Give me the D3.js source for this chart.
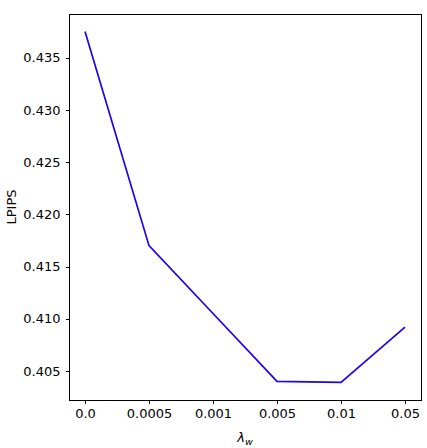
<!doctype html>
<meta charset="utf-8">
<title>LPIPS vs lambda_w</title>
<style>
body { margin: 0; background: #fff; }
text { font-family: "DejaVu Sans", sans-serif; fill: #000; }
</style>
<script src="https://d3js.org/d3.v7.min.js"></script>
<body>
<script>
var lambdas = ["0.0", "0.0005", "0.001", "0.005", "0.01", "0.05"];
var lpips = [0.4375, 0.4170, 0.4105, 0.4040, 0.4039, 0.4092];
var yTicks = [0.405, 0.410, 0.415, 0.420, 0.425, 0.430, 0.435];

var width = 427, height = 448;
var margin = {top: 14, right: 6, bottom: 48, left: 69};
var w = width - margin.left - margin.right,
    h = height - margin.top - margin.bottom;

var svg = d3.select("body").append("svg")
    .attr("width", width)
    .attr("height", height);
var g = svg.append("g")
    .attr("transform", "translate(" + margin.left + "," + margin.top + ")");

// categorical x, matplotlib-like 5% margins
var x = d3.scaleLinear()
    .domain([-0.25, lambdas.length - 1 + 0.25])
    .range([0, w]);
var ymin = d3.min(lpips), ymax = d3.max(lpips), pad = (ymax - ymin) * 0.05;
var y = d3.scaleLinear()
    .domain([ymin - pad, ymax + pad])
    .range([h, 0]);

var xAxis = d3.axisBottom(x)
    .tickValues(d3.range(lambdas.length))
    .tickFormat(function(i) { return lambdas[i]; })
    .tickSizeOuter(0).tickSize(3.5).tickPadding(5);
var yAxis = d3.axisLeft(y)
    .tickValues(yTicks)
    .tickFormat(d3.format(".3f"))
    .tickSizeOuter(0).tickSize(3.5).tickPadding(5);

var gx = g.append("g").attr("transform", "translate(0," + h + ")").call(xAxis);
var gy = g.append("g").call(yAxis);
[gx, gy].forEach(function(a) {
  a.select(".domain").remove();
  a.selectAll("line").attr("stroke", "#000").attr("stroke-width", 1)
    .attr("shape-rendering", "crispEdges");
  a.selectAll("text").style("font-size", "13px").attr("font-family", "DejaVu Sans");
});

g.append("path")
    .datum(lpips)
    .attr("fill", "none")
    .attr("stroke", "#2000f0")
    .attr("stroke-width", 1.7)
    .attr("d", d3.line()
      .x(function(d, i) { return x(i); })
      .y(function(d) { return y(d); }));

g.append("rect")
    .attr("x", 0.5).attr("y", 0.5)
    .attr("width", w).attr("height", h)
    .attr("fill", "none").attr("stroke", "#000").attr("stroke-width", 1)
    .attr("shape-rendering", "crispEdges");

// labels
var xl = svg.append("text")
    .attr("x", margin.left + w / 2)
    .attr("y", height - 6)
    .attr("text-anchor", "middle")
    .style("font-size", "13px");
xl.append("tspan").style("font-style", "italic").text("λ");
xl.append("tspan").attr("dy", 3).style("font-size", "9.5px").style("font-style", "italic").text("w");

svg.append("text")
    .attr("transform", "translate(11," + (margin.top + h / 2) + ") rotate(-90)")
    .attr("text-anchor", "middle")
    .attr("dy", "0.35em")
    .style("font-size", "13px")
    .text("LPIPS");
</script>
</body>
